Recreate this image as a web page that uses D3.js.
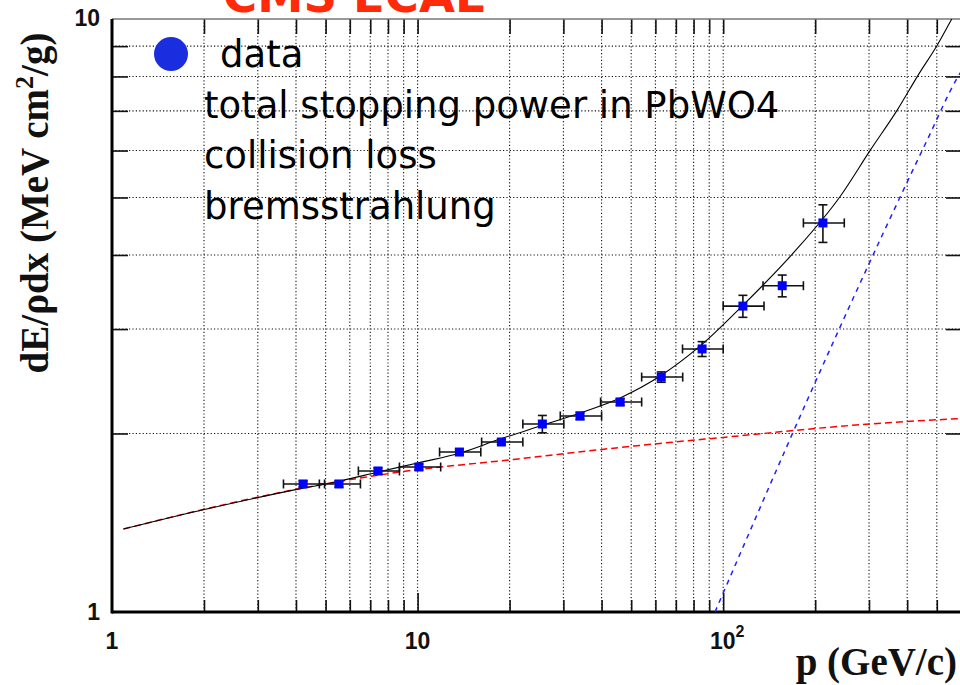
<!DOCTYPE html>
<html>
<head>
<meta charset="utf-8">
<script src="https://cdn.jsdelivr.net/npm/d3@7"></script>
<style>
  body { margin: 0; background: #fff; }
</style>
</head>
<body>
<svg id="chart" width="960" height="685"></svg>
<script>
// measured points (p in GeV/c, dE/rho dx in MeV cm2/g)
const pData   = [4.22, 5.53, 7.42, 10.1, 13.7, 18.8, 25.6, 34.0, 46.0, 62.7, 85.3, 116, 156, 212];
const pLow    = [3.64, 4.77, 6.40, 8.72, 11.8, 16.2, 22.1, 29.3, 39.7, 54.1, 73.6, 100, 135, 183];
const pHigh   = [4.96, 6.50, 8.72, 11.9, 16.1, 22.1, 30.1, 40.0, 54.1, 73.7, 100, 136, 183, 249];
const dedxData = [1.644, 1.644, 1.729, 1.756, 1.861, 1.935, 2.075, 2.141, 2.26, 2.49, 2.777, 3.28, 3.55, 4.53];
const dedxErr  = [0.02, 0.02, 0.02, 0.02, 0.02, 0.02, 0.07, 0.03, 0.03, 0.05, 0.08, 0.14, 0.15, 0.33];

// curves
const totalP   = [1.09, 2.02, 4.03, 5.58, 7.43, 10.0, 13.8, 18.6, 25.2, 34.0, 46.0, 62.2, 84.1, 116, 168, 242, 303, 371, 435, 502, 562, 606];
const totalVal = [1.38, 1.49, 1.61, 1.663, 1.722, 1.784, 1.854, 1.957, 2.059, 2.165, 2.296, 2.50, 2.81, 3.29, 4.01, 5.03, 6.01, 7.02, 8.05, 9.04, 10.04, 10.76];
const collP    = [1.09, 2.0, 4.0, 8.6, 21, 51, 100, 300, 600];
const collVal  = [1.38, 1.49, 1.61, 1.72, 1.81, 1.905, 1.97, 2.075, 2.12];
const bremP    = [94, 120, 157, 334, 465, 583, 600];
const bremVal  = [1.0, 1.338, 1.84, 4.356, 6.25, 7.95, 8.15];

const xMinor = [2, 3, 4, 5, 6, 7, 8, 9, 20, 30, 40, 50, 60, 70, 80, 90, 200, 300, 400, 500];
const xMajor = [10, 100];
const yMinor = [2, 3, 4, 5, 6, 7, 8, 9];
const legendLabels = ["data", "total stopping power in PbWO4", "collision loss", "bremsstrahlung"];

const svg = d3.select("#chart");
const pl = 112, pr = 961, pt = 19, pb = 612;

const x = d3.scaleLog().domain([1, 600]).range([pl, pr]);
const y = d3.scaleLog().domain([1, 10]).range([pb, pt]);

// grid
const grid = svg.append("g")
    .attr("stroke", "#111")
    .attr("stroke-width", 1.1)
    .attr("stroke-dasharray", "1.2,2.2");
grid.selectAll(".gx").data(xMinor.concat(xMajor))
  .enter().append("line")
    .attr("x1", d => x(d)).attr("x2", d => x(d))
    .attr("y1", pt).attr("y2", pb);
grid.selectAll(".gy").data(yMinor)
  .enter().append("line")
    .attr("x1", pl).attr("x2", pr)
    .attr("y1", d => y(d)).attr("y2", d => y(d));

// ticks
function ticks(axis, g, vals, size) {
  g.call(axis.tickValues(vals).tickSize(size).tickFormat(""));
  g.select(".domain").remove();
  g.selectAll("line").attr("stroke", "#111").attr("stroke-width", 1.6);
}
ticks(d3.axisBottom(x), svg.append("g").attr("transform", `translate(0,${pb})`), xMinor, -12);
ticks(d3.axisBottom(x), svg.append("g").attr("transform", `translate(0,${pb})`), xMajor, -19);
ticks(d3.axisTop(x), svg.append("g").attr("transform", `translate(0,${pt})`), xMinor.concat(xMajor), -15);
ticks(d3.axisLeft(y), svg.append("g").attr("transform", `translate(${pl},0)`), yMinor, -16);
ticks(d3.axisRight(y), svg.append("g").attr("transform", `translate(${pr + 2},0)`), yMinor, -17);

// frame
svg.append("line").attr("x1", pl).attr("x2", 962).attr("y1", pt).attr("y2", pt)
    .attr("stroke", "#777").attr("stroke-width", 1.5);
svg.append("line").attr("x1", pl).attr("x2", pl).attr("y1", pt).attr("y2", pb + 1.5)
    .attr("stroke", "#000").attr("stroke-width", 3);
svg.append("line").attr("x1", pl).attr("x2", 962).attr("y1", pb).attr("y2", pb)
    .attr("stroke", "#000").attr("stroke-width", 3);

// curves
svg.append("clipPath").attr("id", "plotclip")
  .append("rect").attr("x", pl).attr("y", pt).attr("width", pr - pl).attr("height", pb - pt);

const line = d3.line().x(d => x(d[0])).y(d => y(d[1])).curve(d3.curveMonotoneX);
const curves = svg.append("g").attr("clip-path", "url(#plotclip)").attr("fill", "none");

curves.append("path")
    .attr("d", line(d3.zip(collP, collVal)))
    .attr("stroke", "#ff0000").attr("stroke-width", 1.5).attr("stroke-dasharray", "7,4");
curves.append("path")
    .attr("d", line(d3.zip(bremP, bremVal)))
    .attr("stroke", "#2020ff").attr("stroke-width", 1.5).attr("stroke-dasharray", "5,5");
curves.append("path")
    .attr("d", line(d3.zip(totalP, totalVal)))
    .attr("stroke", "#000").attr("stroke-width", 1.1);

// data with error bars
const pts = pData.map((p, i) => ({ p, lo: pLow[i], hi: pHigh[i], v: dedxData[i], e: dedxErr[i] }));
const eb = svg.append("g").attr("stroke", "#111").attr("stroke-width", 1.6);
const cap = 4.5;
pts.forEach(d => {
  eb.append("line").attr("x1", x(d.lo)).attr("x2", x(d.hi)).attr("y1", y(d.v)).attr("y2", y(d.v));
  eb.append("line").attr("x1", x(d.lo)).attr("x2", x(d.lo)).attr("y1", y(d.v) - cap).attr("y2", y(d.v) + cap);
  eb.append("line").attr("x1", x(d.hi)).attr("x2", x(d.hi)).attr("y1", y(d.v) - cap).attr("y2", y(d.v) + cap);
  eb.append("line").attr("x1", x(d.p)).attr("x2", x(d.p)).attr("y1", y(d.v + d.e)).attr("y2", y(d.v - d.e));
  eb.append("line").attr("x1", x(d.p) - cap).attr("x2", x(d.p) + cap).attr("y1", y(d.v + d.e)).attr("y2", y(d.v + d.e));
  eb.append("line").attr("x1", x(d.p) - cap).attr("x2", x(d.p) + cap).attr("y1", y(d.v - d.e)).attr("y2", y(d.v - d.e));
});
svg.append("g").selectAll("rect").data(pts)
  .enter().append("rect")
    .attr("x", d => x(d.p) - 4.5).attr("y", d => y(d.v) - 4.5)
    .attr("width", 9).attr("height", 9)
    .attr("fill", "#0000ff");

// tick labels
const lab = svg.append("g")
    .attr("font-family", "'Liberation Sans', Arial, sans-serif")
    .attr("font-weight", "bold").attr("font-size", 23).attr("fill", "#111");
lab.append("text").attr("x", x(1)).attr("y", 649).attr("text-anchor", "middle").text("1");
lab.append("text").attr("x", x(10)).attr("y", 649).attr("text-anchor", "middle").text("10");
const t100 = lab.append("text").attr("x", x(100) + 4).attr("y", 649).attr("text-anchor", "middle");
t100.append("tspan").text("10");
t100.append("tspan").attr("font-size", 16).attr("dy", -12).text("2");
lab.append("text").attr("x", 100).attr("y", y(1) + 8).attr("text-anchor", "end").text("1");
lab.append("text").attr("x", 100).attr("y", y(10) + 7).attr("text-anchor", "end").text("10");

// axis titles
const serif = "'Liberation Serif', 'Times New Roman', serif";
svg.append("text")
    .attr("x", 957).attr("y", 675).attr("text-anchor", "end")
    .attr("font-family", serif).attr("font-weight", "bold").attr("font-size", 39)
    .attr("fill", "#111")
    .text("p (GeV/c)");

const yt = svg.append("text")
    .attr("transform", "translate(48,203) rotate(-90)")
    .attr("text-anchor", "middle")
    .attr("font-family", serif).attr("font-weight", "bold").attr("font-size", 39)
    .attr("fill", "#111");
yt.append("tspan").text("dE/ρdx (MeV cm");
yt.append("tspan").attr("font-size", 26).attr("dy", -15).text("2");
yt.append("tspan").attr("dy", 15).text("/g)");

// title (cut at the top edge, as in the original)
svg.append("text")
    .attr("x", 223).attr("y", 12)
    .attr("font-family", "'DejaVu Sans', Verdana, sans-serif")
    .attr("font-weight", "bold").attr("font-size", 46.5)
    .attr("fill", "#ff2a0a")
    .text("CMS ECAL");

// legend
svg.append("circle").attr("cx", 171).attr("cy", 54).attr("r", 17).attr("fill", "#1a2ee0");
const legY = [67, 118, 168, 219];
const legX = [220, 204, 204, 204];
svg.append("g").selectAll("text").data(legendLabels)
  .enter().append("text")
    .attr("x", (d, i) => legX[i]).attr("y", (d, i) => legY[i])
    .attr("font-family", "'DejaVu Sans', Verdana, sans-serif")
    .attr("font-size", 37).attr("fill", "#000")
    .text(d => d);
</script>
</body>
</html>
